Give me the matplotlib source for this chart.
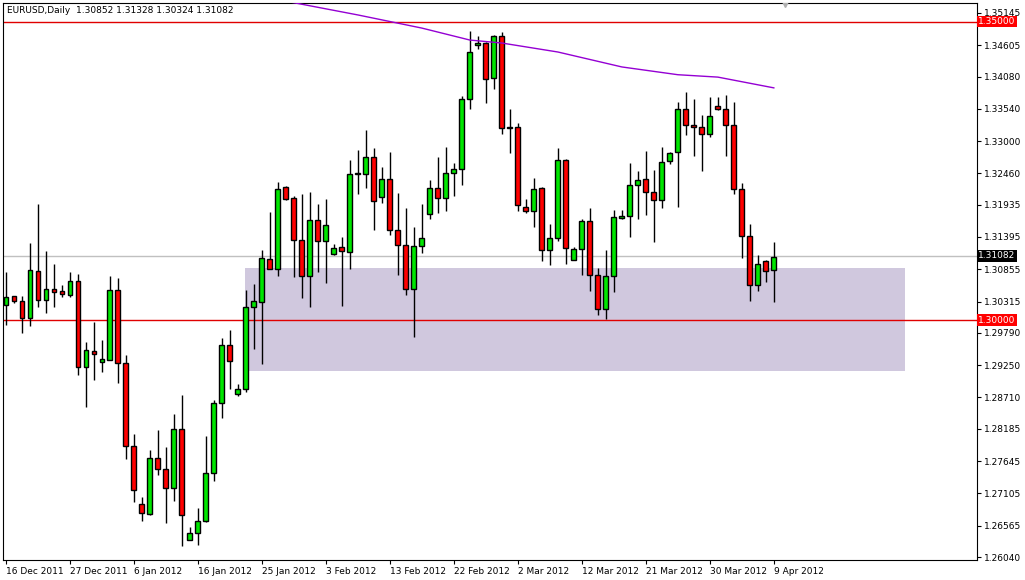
import matplotlib
matplotlib.use("Agg")
import matplotlib.pyplot as plt
import numpy as np

# EURUSD daily OHLC (bar index 0 = 16 Dec 2011)
opens = [1.3025, 1.3041, 1.3032, 1.3004, 1.3082, 1.3034, 1.3052, 1.3049, 1.3042, 1.3066,
         1.2922, 1.2948, 1.2930, 1.2933, 1.3051, 1.2928, 1.2789, 1.2692, 1.2676, 1.2769,
         1.2751, 1.2719, 1.2818, 1.2632, 1.2645, 1.2664, 1.2744, 1.2861, 1.2959, 1.2876,
         1.2885, 1.3022, 1.3030, 1.3102, 1.3086, 1.3223, 1.3205, 1.3134, 1.3074, 1.3168,
         1.3133, 1.3111, 1.3123, 1.3114, 1.3245, 1.3245, 1.3273, 1.3206, 1.3236, 1.3151,
         1.3126, 1.3052, 1.3124, 1.3178, 1.3221, 1.3205, 1.3246, 1.3253, 1.3370, 1.3461,
         1.3464, 1.3405, 1.3476, 1.3322, 1.3323, 1.3189, 1.3183, 1.3221, 1.3117, 1.3138,
         1.3268, 1.3101, 1.3119, 1.3166, 1.3076, 1.3019, 1.3074, 1.3171, 1.3174, 1.3226,
         1.3236, 1.3215, 1.3201, 1.3266, 1.3282, 1.3354, 1.3327, 1.3323, 1.3312, 1.3359,
         1.3354, 1.3327, 1.3220, 1.3141, 1.3059, 1.3099, 1.3084]
highs = [1.3081, 1.3041, 1.3041, 1.3129, 1.3195, 1.3116, 1.3094, 1.3059, 1.3081, 1.3077,
         1.2964, 1.2997, 1.2967, 1.3074, 1.3071, 1.2942, 1.2810, 1.2704, 1.2783, 1.2816,
         1.2788, 1.2843, 1.2875, 1.2654, 1.2686, 1.2806, 1.2866, 1.2970, 1.2984, 1.2893,
         1.3051, 1.3061, 1.3118, 1.3181, 1.3231, 1.3225, 1.3208, 1.3211, 1.3215, 1.3195,
         1.3203, 1.3128, 1.3139, 1.3268, 1.3285, 1.3318, 1.3288, 1.3256, 1.3282, 1.3213,
         1.3188, 1.3156, 1.3195, 1.3235, 1.3273, 1.3290, 1.3263, 1.3375, 1.3484, 1.3476,
         1.3466, 1.3477, 1.3482, 1.3354, 1.3330, 1.3203, 1.3238, 1.3223, 1.3161, 1.3288,
         1.3270, 1.3123, 1.3169, 1.3188, 1.3087, 1.3118, 1.3185, 1.3185, 1.3263, 1.3250,
         1.3283, 1.3251, 1.3290, 1.3282, 1.3365, 1.3382, 1.3370, 1.3343, 1.3374, 1.3374,
         1.3377, 1.3365, 1.3230, 1.3161, 1.3109, 1.3101, 1.3131]
lows = [1.2992, 1.3029, 1.2979, 1.2990, 1.3022, 1.3012, 1.3022, 1.3039, 1.3039, 1.2908,
        1.2855, 1.2900, 1.2913, 1.2933, 1.2895, 1.2768, 1.2696, 1.2664, 1.2674, 1.2741,
        1.2661, 1.2697, 1.2622, 1.2632, 1.2624, 1.2662, 1.2731, 1.2836, 1.2885, 1.2873,
        1.2880, 1.2952, 1.2927, 1.3086, 1.3074, 1.3201, 1.3072, 1.3037, 1.3022, 1.3081,
        1.3062, 1.3109, 1.3024, 1.3086, 1.3211, 1.3221, 1.3151, 1.3196, 1.3143, 1.3076,
        1.3042, 1.2972, 1.3112, 1.3169, 1.3180, 1.3183, 1.3208, 1.3226, 1.3354, 1.3454,
        1.3364, 1.3387, 1.3312, 1.3280, 1.3183, 1.3180, 1.3156, 1.3099, 1.3092, 1.3133,
        1.3094, 1.3101, 1.3076, 1.3049, 1.3009, 1.3002, 1.3047, 1.3169, 1.3139, 1.3169,
        1.3176, 1.3131, 1.3188, 1.3261, 1.3189, 1.3310, 1.3275, 1.3250, 1.3307, 1.3352,
        1.3275, 1.3211, 1.3104, 1.3032, 1.3049, 1.3064, 1.3030]
closes = [1.3039, 1.3032, 1.3004, 1.3084, 1.3034, 1.3052, 1.3047, 1.3044, 1.3066, 1.2922,
          1.2950, 1.2943, 1.2935, 1.3051, 1.2928, 1.2789, 1.2716, 1.2677, 1.2769, 1.2751,
          1.2719, 1.2818, 1.2674, 1.2645, 1.2664, 1.2744, 1.2861, 1.2959, 1.2932, 1.2885,
          1.3022, 1.3032, 1.3104, 1.3086, 1.3220, 1.3203, 1.3134, 1.3074, 1.3168, 1.3133,
          1.3159, 1.3121, 1.3116, 1.3245, 1.3245, 1.3273, 1.3200, 1.3236, 1.3151, 1.3126,
          1.3052, 1.3124, 1.3138, 1.3221, 1.3205, 1.3246, 1.3253, 1.3370, 1.3449, 1.3464,
          1.3404, 1.3476, 1.3322, 1.3322, 1.3193, 1.3183, 1.3220, 1.3117, 1.3138, 1.3268,
          1.3121, 1.3119, 1.3166, 1.3076, 1.3019, 1.3074, 1.3173, 1.3174, 1.3226, 1.3235,
          1.3215, 1.3201, 1.3265, 1.3280, 1.3354, 1.3327, 1.3323, 1.3312, 1.3342, 1.3354,
          1.3327, 1.3220, 1.3141, 1.3059, 1.3094, 1.3082, 1.3106]

# moving average (purple), sampled at bar indices
ma_idx = [35, 44, 52, 58, 62, 69, 77, 84, 89, 96]
ma_val = [1.3534, 1.3511, 1.3489, 1.3469, 1.3464, 1.3449, 1.3424, 1.3411, 1.3407, 1.3389]

# support zone rectangle
zone_x = (29.9, 112.4)
zone_y = (1.2915, 1.30878)

tick_prices = [1.35145, 1.34605, 1.34080, 1.33540, 1.33000, 1.32460, 1.31935, 1.31395,
               1.30855, 1.30315, 1.29790, 1.29250, 1.28710, 1.28185, 1.27645, 1.27105,
               1.26565, 1.26040]
date_idx = [0, 8, 16, 24, 32, 40, 48, 56, 64, 72, 80, 88, 96]
date_labels = ["16 Dec 2011", "27 Dec 2011", "6 Jan 2012", "16 Jan 2012", "25 Jan 2012",
               "3 Feb 2012", "13 Feb 2012", "22 Feb 2012", "2 Mar 2012", "12 Mar 2012",
               "21 Mar 2012", "30 Mar 2012", "9 Apr 2012"]
levels = [1.35000, 1.30000]
last_price = 1.31082

fig = plt.figure(figsize=(10.25, 5.8), dpi=100)
ax = fig.add_axes([3 / 1025, 20 / 580, 974 / 1025, 557 / 580])
ax.set_xlim(-0.375, 121.4)
ax.set_ylim(1.2599, 1.3531)

ax.add_patch(plt.Rectangle((zone_x[0], zone_y[0]), zone_x[1] - zone_x[0], zone_y[1] - zone_y[0],
                           facecolor="#d0c8de", edgecolor="none", zorder=1))
for lv in levels:
    ax.axhline(lv, color="#e00000", lw=1, zorder=2)
ax.axhline(last_price, color="#c0c0c0", lw=1, zorder=2)

x = np.arange(len(opens))
o = np.array(opens); c = np.array(closes)
ax.vlines(x, lows, highs, color="black", lw=1, zorder=3)
up = c >= o
bottoms = np.minimum(o, c)
heights = np.maximum(np.abs(c - o), 0.00008)
ax.bar(x[up], heights[up], bottom=bottoms[up], width=0.62, color="#00e600",
       edgecolor="black", lw=1, zorder=4)
ax.bar(x[~up], heights[~up], bottom=bottoms[~up], width=0.62, color="#ff0000",
       edgecolor="black", lw=1, zorder=4)

ax.plot(ma_idx, ma_val, color="#9400d3", lw=1, zorder=5, clip_on=True)
ax.plot([97.4], [1.3529], marker="v", color="#b0b0b0", ms=5, zorder=5)

ax.yaxis.tick_right()
ax.set_yticks(tick_prices)
ax.set_yticklabels([f"{p:.5f}" for p in tick_prices], fontsize=6.5)
ax.set_xticks(date_idx)
ax.set_xticklabels(date_labels, fontsize=6.5, ha="left")
ax.tick_params(axis="both", length=3, pad=2, colors="black")
for lab in ax.get_xticklabels():
    lab.set_x(lab.get_position()[0])

for lv in levels:
    ax.text(1.001, lv, f"{lv:.5f}", transform=ax.get_yaxis_transform(), fontsize=6.5,
            color="white", va="center", ha="left",
            bbox=dict(boxstyle="square,pad=0.15", fc="#ff0000", ec="none"))
ax.text(1.001, last_price, f"{last_price:.5f}", transform=ax.get_yaxis_transform(), fontsize=6.5,
        color="white", va="center", ha="left",
        bbox=dict(boxstyle="square,pad=0.15", fc="black", ec="none"))

ax.text(0.004, 0.995, "EURUSD,Daily  1.30852 1.31328 1.30324 1.31082", transform=ax.transAxes,
        fontsize=6.5, va="top", ha="left")
for s in ax.spines.values():
    s.set_color("black")
    s.set_linewidth(0.8)

fig.savefig("out.png", dpi=100)
